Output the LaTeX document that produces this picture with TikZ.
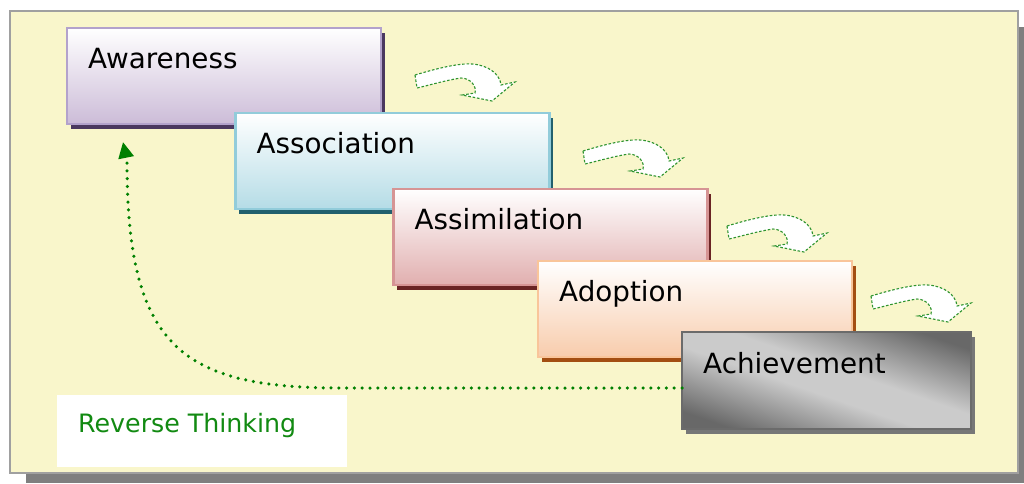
\documentclass[tikz,border=0pt]{standalone}
\usepackage{fontspec}
\setmainfont{DejaVu Sans}
\usetikzlibrary{arrows.meta,shadows,calc}
\definecolor{bgcream}{HTML}{F9F6CB}
\definecolor{bgborder}{HTML}{A0A0A0}
\definecolor{bgshadow}{HTML}{7F7F7F}
\definecolor{awborder}{HTML}{B3A2CC}
\definecolor{awbottom}{HTML}{CCBCD8}
\definecolor{awshadow}{HTML}{4B3860}
\definecolor{asborder}{HTML}{92CCDA}
\definecolor{asbottom}{HTML}{B5DCE6}
\definecolor{asshadow}{HTML}{22606E}
\definecolor{amborder}{HTML}{D69494}
\definecolor{ambottom}{HTML}{E1AFAF}
\definecolor{amshadow}{HTML}{6A2424}
\definecolor{adborder}{HTML}{F9C59A}
\definecolor{adbottom}{HTML}{F8CCAC}
\definecolor{adshadow}{HTML}{A34E12}
\definecolor{achborder}{HTML}{6B6B6B}
\definecolor{achshadow}{HTML}{777777}
\definecolor{achdark}{HTML}{686868}
\definecolor{achmid}{HTML}{9C9C9C}
\definecolor{achlight}{HTML}{CBCBCB}
\definecolor{arrgreen}{HTML}{2F942F}
\definecolor{revgreen}{HTML}{008000}
\definecolor{revtext}{HTML}{128A12}
\pgfdeclarehorizontalshading{achvshade}{100bp}{color(0bp)=(achdark); color(24bp)=(achdark); color(35bp)=(achmid); color(45bp)=(achlight); color(55bp)=(achlight); color(65bp)=(achmid); color(76bp)=(achdark); color(100bp)=(achdark)}
\tikzset{
  stagebox/.style n args={3}{draw=#1, line width=2.2pt, top color=white, bottom color=#2,
    general shadow={fill=#3, shadow xshift=3.5pt, shadow yshift=-4.5pt},
    inner sep=0pt, outer sep=0pt, minimum width=314pt, minimum height=96pt},
  stagetext/.style={anchor=base west, inner sep=0pt, font=\fontsize{27.8}{33}\selectfont, text=black},
  arrowline/.style={draw=arrgreen, fill=white, line width=1.1pt, dash pattern=on 2.6pt off 1.8pt},
  bentarrow/.pic={
    \path[arrowline] (15,25) .. controls (35,19) and (58,13) .. (72,14)
      .. controls (88,15) and (100,24) .. (101,35) -- (115,32) -- (92,51) -- (62,45) -- (75,43)
      .. controls (77,36) and (70,28) .. (61,28)
      .. controls (47,30) and (30,35) .. (17,38) -- cycle;
  },
  revline/.style={draw=revgreen, line width=3.5pt, line cap=round, dash pattern=on 0pt off 7.8pt,
    -{Triangle[length=16pt,width=15pt]}},
  revbox/.style={fill=white, draw=none, inner sep=0pt, minimum width=290pt, minimum height=72pt},
  revtxt/.style={anchor=base west, inner sep=0pt, font=\fontsize{25.3}{30}\selectfont, text=revtext}
}
\begin{document}
\begin{tikzpicture}[x=1pt,y=-1pt]
\useasboundingbox (0,0) rectangle (1024,483);
% background panel
\fill[bgshadow] (26,27) rectangle (1024,483);
\draw[bgborder, fill=bgcream, line width=2pt] (10,11) rectangle (1018,473);
% stages
\node[stagebox={awborder}{awbottom}{awshadow}] (aw) at (224,76) {};
\node[stagetext] (awt) at ($(aw.north west)+(21,40)$) {Awareness};
\node[stagebox={asborder}{asbottom}{asshadow}] (as) at (392.5,161) {};
\node[stagetext] (ast) at ($(as.north west)+(21,40)$) {Association};
\node[stagebox={amborder}{ambottom}{amshadow}] (am) at (550.5,237) {};
\node[stagetext] (amt) at ($(am.north west)+(21,40)$) {Assimilation};
\node[stagebox={adborder}{adbottom}{adshadow}] (ad) at (695,309) {};
\node[stagetext] (adt) at ($(ad.north west)+(21,40)$) {Adoption};
\node[draw=achborder, line width=2.2pt, shading=achvshade, shading angle=71,
  general shadow={fill=achshadow, shadow xshift=3.5pt, shadow yshift=-4.5pt},
  inner sep=0pt, outer sep=0pt, minimum width=289pt, minimum height=97pt] (ach) at (826.5,380.5) {};
\node[stagetext] (acht) at ($(ach.north west)+(21,41)$) {Achievement};
% bent arrows
\pic (ar1) at (400,50) {bentarrow};
\pic (ar2) at (568,126) {bentarrow};
\pic (ar3) at (712,201) {bentarrow};
\pic (ar4) at (856,271) {bentarrow};
% reverse thinking
\node[revbox] (rtb) at (202,431) {};
\node[revtxt] (rtt) at (78,432) {Reverse Thinking};
\coordinate (rtstart) at ($(ach.west)+(0,7.5)$);
\coordinate (rtmid) at (340,388);
\coordinate (rtbend) at (127,162);
\coordinate (rtend) at (123,142);
\draw[revline] (rtstart) -- (rtmid) .. controls (180,388) and (127,345) .. (rtbend) -- (rtend);
\end{tikzpicture}
\end{document}
